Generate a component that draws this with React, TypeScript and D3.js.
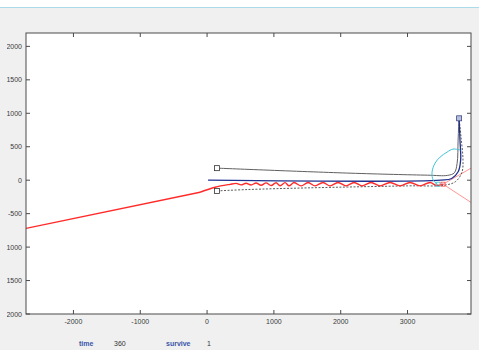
import React from "react";
import * as d3 from "d3";

const W = 479;
const H = 350;

const xTicks = [-2000, -1000, 0, 1000, 2000, 3000];
const yTicks = [-2000, -1500, -1000, -500, 0, 500, 1000, 1500, 2000];

const redLeadX = [-2710, -105];
const redLeadY = [-720, -180];

const redX = [-105, 120, 344, 434, 509, 584, 658, 733, 808, 883, 958, 1033, 1093, 1167, 1227, 1302, 1407, 1512, 1616, 1736, 1841, 1960, 2080, 2200, 2320, 2454, 2589, 2739, 2888, 3038, 3188, 3337, 3442, 3532];
const redY = [-180, -105, -62, -48, -70, -45, -72, -42, -76, -40, -80, -38, -82, -36, -84, -35, -85, -35, -85, -35, -85, -35, -85, -35, -85, -35, -85, -35, -85, -35, -85, -35, -80, -60];

const grayX = [150, 2140, 3300, 3600, 3700, 3742, 3757, 3770];
const grayY = [180, 105, 75, 72, 110, 250, 600, 925];

const blueX = [15, 3500, 3660, 3760, 3795, 3785, 3772];
const blueY = [0, 0, 25, 130, 300, 600, 925];

const dashX = [150, 600, 1500, 3000, 3550, 3720, 3815, 3830, 3800, 3772];
const dashY = [-160, -140, -115, -85, -75, -20, 120, 300, 650, 925];

const cyanX = [3457, 3385, 3367, 3412, 3487, 3592, 3682, 3790];
const cyanY = [-70, 0, 120, 255, 345, 420, 465, 450];

const rayStart = [3532, -60];
const rayEndX = [4300, 4300];
const rayEndY = [380, -560];

const timeValue = "360";
const surviveValue = "1";

function pts(xs: number[], ys: number[]): [number, number][] {
  return xs.map((x, i) => [x, ys[i]]);
}

export default function App() {
  const x = d3.scaleLinear().domain([-2710, 3950]).range([26, 471]);
  const y = d3.scaleLinear().domain([-2000, 2200]).range([314, 33]);
  const line = d3
    .line<[number, number]>()
    .x((d) => x(d[0]))
    .y((d) => y(d[1]))
    .curve(d3.curveCatmullRom.alpha(0.5));
  const smooth = d3
    .line<[number, number]>()
    .x((d) => x(d[0]))
    .y((d) => y(d[1]))
    .curve(d3.curveMonotoneX);
  const straight = d3
    .line<[number, number]>()
    .x((d) => x(d[0]))
    .y((d) => y(d[1]));

  const [x0, x1] = x.range();
  const [yb, yt] = y.range();
  const font = "'Liberation Sans', Arial, sans-serif";
  const sq = (cx: number, cy: number, s: number, fill: string, stroke: string, key: string) => (
    <rect key={key} x={x(cx) - s / 2} y={y(cy) - s / 2} width={s} height={s} fill={fill} stroke={stroke} strokeWidth={0.8} />
  );

  return (
    <svg width={W} height={H} style={{ position: "absolute", left: 0, top: 0 }} fontFamily={font}>
      <defs>
        <clipPath id="plot">
          <rect x={x0} y={yt} width={x1 - x0} height={yb - yt} />
        </clipPath>
        <clipPath id="ylab">
          <rect x={7} y={0} width={40} height={H} />
        </clipPath>
      </defs>
      <rect x={0} y={0} width={W} height={H} fill="#f0f0f0" />
      <rect x={0} y={0} width={W} height={7} fill="#ffffff" />
      <line x1={0} x2={W} y1={7.5} y2={7.5} stroke="#a9dbe8" strokeWidth={1} />
      <rect x={x0} y={yt} width={x1 - x0} height={yb - yt} fill="#ffffff" />

      <g clipPath="url(#plot)" fill="none">
        <path d={straight([rayStart as [number, number], [rayEndX[0], rayEndY[0]]]) || ""} stroke="#ff7a7a" strokeWidth={0.8} />
        <path d={straight([rayStart as [number, number], [rayEndX[1], rayEndY[1]]]) || ""} stroke="#ff7a7a" strokeWidth={0.8} />
        <path d={line(pts(grayX, grayY)) || ""} stroke="#606060" strokeWidth={1} />
        <path d={line(pts(dashX, dashY)) || ""} stroke="#303030" strokeWidth={0.8} strokeDasharray="2,1.5" />
        <path d={line(pts(blueX, blueY)) || ""} stroke="#1f2f8f" strokeWidth={1.3} />
        <path d={straight(pts(redLeadX, redLeadY)) || ""} stroke="#ff2a2a" strokeWidth={1.4} />
        <path d={smooth(pts(redX, redY)) || ""} stroke="#ff2a2a" strokeWidth={1.4} />
        <path d={line(pts(cyanX, cyanY)) || ""} stroke="#3fc3d6" strokeWidth={1} />
        {sq(grayX[0], grayY[0], 5, "#ffffff", "#333333", "s1")}
        {sq(dashX[0], dashY[0], 5, "#ffffff", "#333333", "s2")}
        {sq(blueX[blueX.length - 1], blueY[blueY.length - 1], 5, "#b8c0e0", "#404a80", "s3")}
        {sq(cyanX[0], cyanY[0] + 10, 4, "none", "#3fc3d6", "s4")}
        {sq(rayStart[0], rayStart[1], 4, "none", "#ff5050", "s5")}
      </g>

      <rect x={x0} y={yt} width={x1 - x0} height={yb - yt} fill="none" stroke="#4a4a4a" strokeWidth={1} />
      {xTicks.map((t) => (
        <g key={"x" + t}>
          <line x1={x(t)} x2={x(t)} y1={yb} y2={yb - 4} stroke="#4a4a4a" />
          <line x1={x(t)} x2={x(t)} y1={yt} y2={yt + 4} stroke="#4a4a4a" />
          <text x={x(t)} y={yb + 9.5} textAnchor="middle" fontSize={7} fill="#3a3a3a">
            {t}
          </text>
        </g>
      ))}
      <g clipPath="url(#ylab)">
        {yTicks.map((t) => (
          <text key={"yl" + t} x={22} y={y(t) + 2.5} textAnchor="end" fontSize={7} fill="#3a3a3a">
            {t}
          </text>
        ))}
      </g>
      {yTicks.map((t) => (
        <g key={"y" + t}>
          <line x1={x0} x2={x0 + 4} y1={y(t)} y2={y(t)} stroke="#4a4a4a" />
          <line x1={x1} x2={x1 - 4} y1={y(t)} y2={y(t)} stroke="#4a4a4a" />
        </g>
      ))}

      <text x={79} y={346} fontSize={7} fontWeight="bold" fill="#3a56a8">time</text>
      <text x={114} y={346} fontSize={7} fill="#333333">{timeValue}</text>
      <text x={166} y={346} fontSize={7} fontWeight="bold" fill="#3a56a8">survive</text>
      <text x={207} y={346} fontSize={7} fill="#333333">{surviveValue}</text>
    </svg>
  );
}
